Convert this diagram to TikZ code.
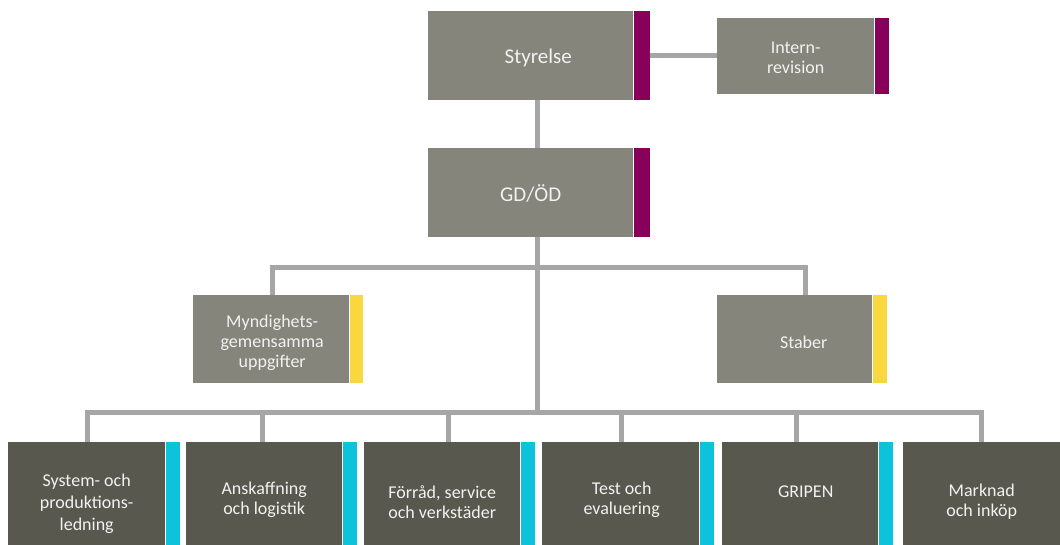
\documentclass[tikz,border=0pt]{standalone}
\usepackage{fontspec}
\setmainfont{Carlito}
\definecolor{cTop}{HTML}{85857B}
\definecolor{cDark}{HTML}{58584F}
\definecolor{cPurple}{HTML}{87005A}
\definecolor{cYellow}{HTML}{F8D83E}
\definecolor{cCyan}{HTML}{0DC3DB}
\definecolor{cLine}{HTML}{A6A6A6}
\definecolor{cText}{HTML}{F2F2F2}
\begin{document}
\begin{tikzpicture}[x=1pt,y=-1pt,
  box/.style={anchor=north west, inner sep=0pt},
  topbox/.style={box, fill=cTop},
  darkbox/.style={box, fill=cDark, minimum height=113pt},
  lbl/.style={inner sep=0pt, align=center, text=cText, font=\fontsize{18}{20}\selectfont},
  biglbl/.style={lbl, font=\fontsize{21}{24}\selectfont},
  barbox/.style={anchor=north west, inner sep=0pt, minimum width=14pt},
  conn/.style={draw=cLine, line width=5pt}
]
\useasboundingbox (0,0) rectangle (1060,545);
\clip (0,0) rectangle (1060,545);

% top level
\node[topbox, minimum width=205pt, minimum height=89pt,
  label={[biglbl, xshift=7.5pt, yshift=-2.5pt]center:Styrelse}] (sty) at (428,11) {};
\node[barbox, fill=cPurple, minimum width=16pt, minimum height=89pt] (styb) at (sty.north east) {};
\node[topbox, minimum width=157pt, minimum height=76pt,
  label={[lbl, yshift=-2pt]center:{Intern-\\revision}}] (int) at (717,18) {};
\node[barbox, fill=cPurple, minimum height=76pt] (intb) at (int.north east) {};
\node[topbox, minimum width=205pt, minimum height=89pt,
  label={[biglbl, yshift=-1pt]center:GD/ÖD}] (gd) at (428,148) {};
\node[barbox, fill=cPurple, minimum width=16pt, minimum height=89pt] (gdb) at (gd.north east) {};

% middle level
\node[topbox, minimum width=156pt, minimum height=88pt,
  label={[lbl, xshift=1pt, yshift=-3.5pt]center:{Myndighets-\\gemensamma\\uppgifter}}] (myn) at (193,295) {};
\node[barbox, fill=cYellow, minimum width=13pt, minimum height=88pt] (mynb) at (myn.north east) {};
\node[topbox, minimum width=155pt, minimum height=88pt,
  label={[lbl, xshift=9pt, yshift=-3.5pt]center:Staber}] (sta) at (717,295) {};
\node[barbox, fill=cYellow, minimum height=88pt] (stab) at (sta.north east) {};

% bottom level
\node[darkbox, minimum width=157pt,
  label={[lbl, font=\fontsize{18}{22}\selectfont, yshift=-5pt]center:{System- och\\produktions-\\ledning}}] (b1) at (8,442) {};
\node[barbox, fill=cCyan, minimum height=113pt] (b1b) at (b1.north east) {};
\node[darkbox, minimum width=156pt,
  label={[lbl, yshift=-1pt]center:{Anskaffning\\och logistik}}] (b2) at (186,442) {};
\node[barbox, fill=cCyan, minimum height=113pt] (b2b) at (b2.north east) {};
\node[darkbox, minimum width=156pt,
  label={[lbl, yshift=-3.5pt]center:{Förråd, service\\och verkstäder}}] (b3) at (364,442) {};
\node[barbox, fill=cCyan, minimum height=113pt] (b3b) at (b3.north east) {};
\node[darkbox, minimum width=157pt,
  label={[lbl, xshift=1pt, yshift=-1pt]center:{Test och\\evaluering}}] (b4) at (542,442) {};
\node[barbox, fill=cCyan, minimum height=113pt] (b4b) at (b4.north east) {};
\node[darkbox, minimum width=156pt,
  label={[lbl, xshift=5.5pt, yshift=7pt]center:GRIPEN}] (b5) at (722,442) {};
\node[barbox, fill=cCyan, minimum height=113pt] (b5b) at (b5.north east) {};
\node[darkbox, minimum width=157pt,
  label={[lbl, yshift=-3pt]center:{Marknad\\och inköp}}] (b6) at (903,442) {};
\node[barbox, fill=cCyan, minimum height=113pt] (b6b) at (b6.north east) {};

% connectors
\coordinate (spine) at (537,0);
\coordinate (midbus) at (537,267.5);
\coordinate (bus) at (537,412.5);
\draw[conn] (styb.east) -- (styb.east -| int.west);
\draw[conn] (spine |- sty.south) -- (spine |- gd.north);
\draw[conn] (spine |- gd.south) -- (bus);
\draw[conn] ([xshift=1pt]myn.north) |- (midbus) -| ([xshift=10.5pt]sta.north);
\draw[conn] ([xshift=0.5pt]b1.north) |- (bus) -| ([xshift=-0.5pt]b6.north);
\draw[conn] ([xshift=-2pt]b2.north) -- ([xshift=-2pt]b2.north |- bus);
\draw[conn] ([xshift=6pt]b3.north) -- ([xshift=6pt]b3.north |- bus);
\draw[conn] ([xshift=0.5pt]b4.north) -- ([xshift=0.5pt]b4.north |- bus);
\draw[conn] ([xshift=-4pt]b5.north) -- ([xshift=-4pt]b5.north |- bus);
\end{tikzpicture}
\end{document}
